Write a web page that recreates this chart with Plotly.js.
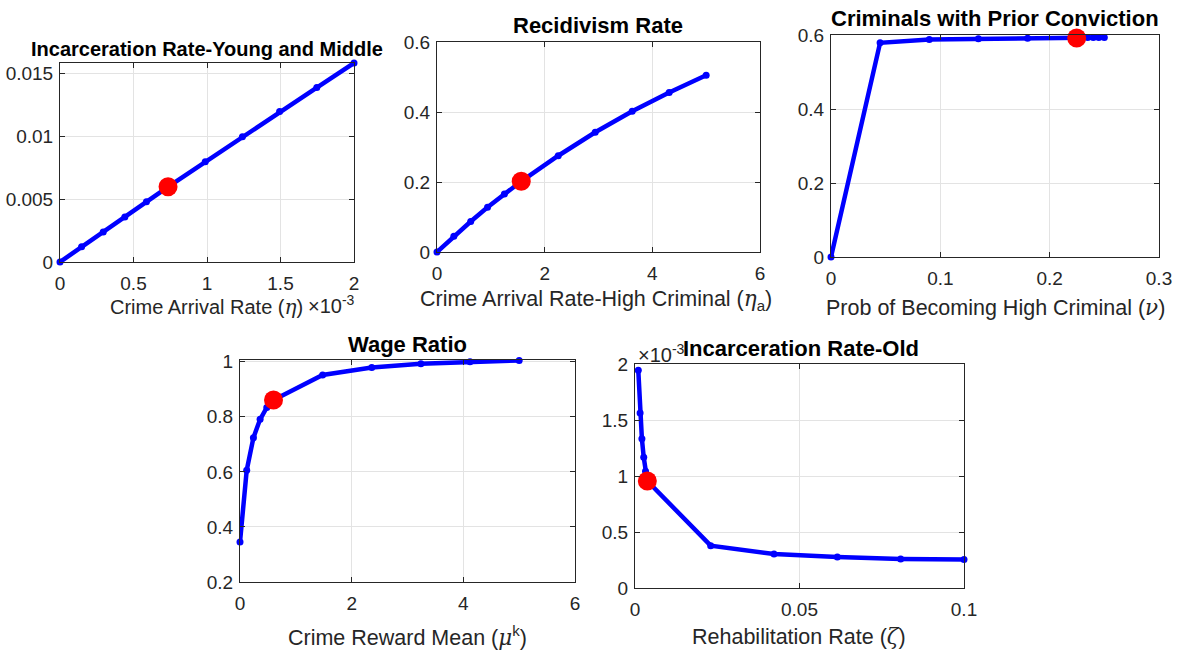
<!DOCTYPE html>
<html>
<head>
<meta charset="utf-8">
<script src="https://cdn.plot.ly/plotly-3.0.1.min.js"></script>
<style>
  html, body { margin: 0; padding: 0; background: #ffffff; }
  #chart { width: 1179px; height: 653px; }
</style>
</head>
<body>
<div id="chart"></div>
<script>
// Sensitivity of model outcomes to single parameters; the red dot marks the baseline calibration.

// Incarceration rate (young and middle) vs crime arrival rate eta (x in units of 1e-3)
const etaX = [0, 0.147, 0.294, 0.441, 0.588, 0.735, 0.988, 1.241, 1.494, 1.747, 2.0];
const incYoungY = [0, 0.00122, 0.00239, 0.00358, 0.00478, 0.00597, 0.00796, 0.00995, 0.01194, 0.01385, 0.0158];

// Recidivism rate vs crime arrival rate of high criminals eta_a
const etaAX = [0, 0.313, 0.626, 0.939, 1.252, 1.565, 2.252, 2.939, 3.626, 4.313, 5.0];
const recidY = [0, 0.045, 0.087, 0.128, 0.166, 0.202, 0.275, 0.342, 0.402, 0.456, 0.505];

// Share of criminals with a prior conviction vs probability of becoming a high criminal nu
const nuX = [0, 0.0449, 0.0899, 0.1348, 0.1798, 0.2247, 0.2298, 0.2348, 0.2399, 0.2449, 0.25];
const priorY = [0, 0.579, 0.588, 0.590, 0.591, 0.592, 0.592, 0.593, 0.593, 0.593, 0.593];

// Wage ratio vs mean crime reward mu^k
const muX = [0, 0.12, 0.24, 0.36, 0.48, 0.6, 1.48, 2.36, 3.24, 4.12, 5.0];
const wageY = [0.345, 0.606, 0.724, 0.791, 0.834, 0.861, 0.952, 0.979, 0.993, 1.0, 1.005];

// Incarceration rate (old, in units of 1e-3) vs rehabilitation rate zeta
const zetaX = [0.001, 0.00155, 0.0021, 0.00265, 0.0032, 0.00375, 0.023, 0.04225, 0.0615, 0.08075, 0.1];
const incOldY = [1.949, 1.567, 1.335, 1.170, 1.044, 0.958, 0.379, 0.304, 0.278, 0.260, 0.254];

// Position of the baseline value inside each sweep
const baselineIndex = [5, 5, 5, 5, 5];

// Tick labels
const p1XTicks = [0, 0.5, 1, 1.5, 2];
const p1YTicks = [0, 0.005, 0.01, 0.015];
const p1YText = ['0', '0.005', '0.01', '0.015'];
const p2XTicks = [0, 2, 4, 6];
const p2YTicks = [0, 0.2, 0.4, 0.6];
const p3XTicks = [0, 0.1, 0.2, 0.3];
const p3YTicks = [0, 0.2, 0.4, 0.6];
const p4XTicks = [0, 2, 4, 6];
const p4YTicks = [0.2, 0.4, 0.6, 0.8, 1];
const p5XTicks = [0, 0.05, 0.1];
const p5YTicks = [0, 0.5, 1, 1.5, 2];

const W = 1179, H = 653;
const FONT = 'Liberation Sans, Arial, Helvetica, sans-serif';
const INK = '#262626';
const px = v => v / W;
const py = v => 1 - v / H;

function axis(domain, range, tickvals, ticktext, standoff) {
  const a = {
    domain: domain, range: range, tickmode: 'array', tickvals: tickvals,
    ticks: 'inside', ticklen: 5, tickwidth: 1, tickcolor: INK,
    showline: true, linecolor: INK, linewidth: 1, mirror: 'allticks',
    showgrid: true, gridcolor: '#e3e3e3', gridwidth: 1, zeroline: false,
    tickfont: { family: FONT, size: 19, color: INK }, fixedrange: true,
    ticklabelstandoff: standoff
  };
  if (ticktext) a.ticktext = ticktext;
  return a;
}
const xAxis = (d, r, t, tt) => axis(d, r, t, tt, 4);
const yAxis = (d, r, t, tt) => axis(d, r, t, tt, 2);

const panels = [
  { x: etaX, y: incYoungY, xa: 'x', ya: 'y' },
  { x: etaAX, y: recidY, xa: 'x2', ya: 'y2' },
  { x: nuX, y: priorY, xa: 'x3', ya: 'y3' },
  { x: muX, y: wageY, xa: 'x4', ya: 'y4' },
  { x: zetaX, y: incOldY, xa: 'x5', ya: 'y5' }
];

const traces = [];
panels.forEach((p, i) => {
  traces.push({
    type: 'scatter', mode: 'lines+markers', x: p.x, y: p.y, xaxis: p.xa, yaxis: p.ya,
    line: { color: '#0000ff', width: 4.5 }, marker: { color: '#0000ff', size: 7 },
    cliponaxis: false, hoverinfo: 'skip'
  });
  const k = baselineIndex[i];
  traces.push({
    type: 'scatter', mode: 'markers', x: [p.x[k]], y: [p.y[k]], xaxis: p.xa, yaxis: p.ya,
    marker: { color: '#ff0000', size: 19 }, cliponaxis: false, hoverinfo: 'skip'
  });
});

const serif = s => '<span style="font-family:DejaVu Serif, Liberation Serif, serif"><i>' + s + '</i></span>';

function label(text, x, y, size, opts) {
  return Object.assign({
    text: text, xref: 'paper', yref: 'paper', x: px(x), y: py(y),
    xanchor: 'center', yanchor: 'middle', showarrow: false,
    font: { family: FONT, size: size, color: INK }
  }, opts || {});
}

const bold = size => ({ font: { family: FONT, size: size, color: '#000000', weight: 'bold' } });

const annotations = [
  // panel titles
  label('<b>Incarceration Rate-Young and Middle</b>', 207, 49, 20, bold(20)),
  label('<b>Recidivism Rate</b>', 598, 26, 22, bold(22)),
  label('<b>Criminals with Prior Conviction</b>', 995, 18, 22, bold(22)),
  label('<b>Wage Ratio</b>', 407, 344, 22, bold(22)),
  // axis titles
  label('Crime Arrival Rate (' + serif('η') + ')', 207, 307, 20),
  label('×10<sup>-3</sup>', 306, 304, 20, { xanchor: 'left' }),
  label('Crime Arrival Rate-High Criminal (' + serif('η') + '<sub>a</sub>)', 596, 300, 21.5),
  label('Prob of Becoming High Criminal (' + serif('ν') + ')', 995, 307, 21.5),
  label('Crime Reward Mean (' + serif('μ') + '<sup>k</sup>)', 407, 636, 21.5),
  label('Rehabilitation Rate (' + serif('ζ') + ')', 799, 636, 21.5),
  label('×10<sup>-3</sup>', 636, 353, 20, { xanchor: 'left' }),
  // drawn last so it sits over the exponent label
  label('<b>Incarceration Rate-Old</b>', 801, 348, 22, bold(22))
];

const layout = {
  width: W, height: H, margin: { l: 0, r: 0, t: 0, b: 0 },
  paper_bgcolor: '#ffffff', plot_bgcolor: '#ffffff', showlegend: false,
  xaxis: xAxis([px(60), px(354)], [0, 2], p1XTicks),
  yaxis: yAxis([py(262), py(63)], [0, 0.0158], p1YTicks, p1YText),
  xaxis2: xAxis([px(437), px(760)], [0, 6], p2XTicks),
  yaxis2: yAxis([py(252), py(42)], [0, 0.6], p2YTicks),
  xaxis3: xAxis([px(831), px(1159)], [0, 0.3], p3XTicks),
  yaxis3: yAxis([py(257), py(35)], [0, 0.6], p3YTicks),
  xaxis4: xAxis([px(240), px(575)], [0, 6], p4XTicks),
  yaxis4: yAxis([py(582), py(360)], [0.2, 1.0065], p4YTicks),
  xaxis5: xAxis([px(635), px(964)], [0, 0.1], p5XTicks),
  yaxis5: yAxis([py(588), py(364)], [0, 2.005], p5YTicks),
  annotations: annotations
};
['yaxis', 'yaxis2', 'yaxis3', 'yaxis4', 'yaxis5'].forEach((k, i) => {
  layout[k].anchor = i === 0 ? 'x' : 'x' + (i + 1);
});
['xaxis', 'xaxis2', 'xaxis3', 'xaxis4', 'xaxis5'].forEach((k, i) => {
  layout[k].anchor = i === 0 ? 'y' : 'y' + (i + 1);
});

Plotly.newPlot('chart', traces, layout, { staticPlot: true, displayModeBar: false });
</script>
</body>
</html>
